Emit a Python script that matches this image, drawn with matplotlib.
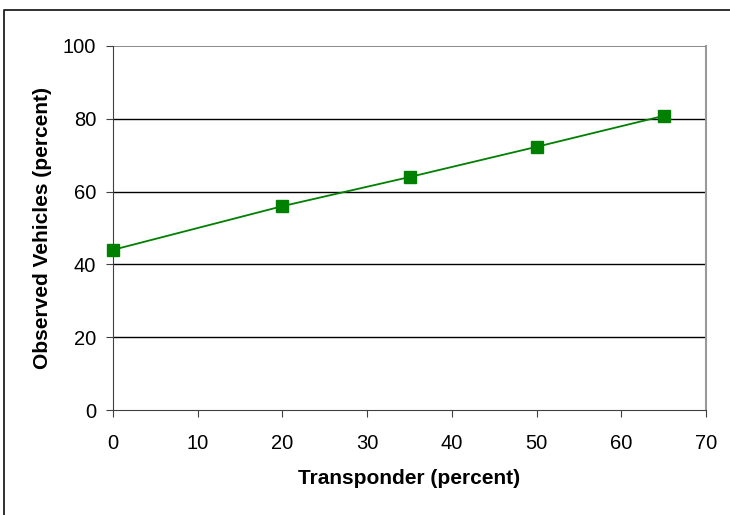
import matplotlib; matplotlib.use("Agg")
import matplotlib.pyplot as plt
from matplotlib.lines import Line2D

transponder = [0, 20, 35, 50, 65]
observed = [44, 56, 64, 72.3, 80.8]
x_ticks = [0, 10, 20, 30, 40, 50, 60, 70]
y_ticks = [0, 20, 40, 60, 80, 100]

plt.rcParams['font.family'] = ['Liberation Sans', 'DejaVu Sans']
W, H = 730, 515
fig = plt.figure(figsize=(W/100, H/100), dpi=100)
# outer chart border (Excel style), only top and left visible
fig.lines.append(Line2D([4/W, 4/W, 1.0], [0, 1-10/H, 1-10/H], transform=fig.transFigure,
                        color="#202020", lw=1.3))
ax = fig.add_axes([113/W, 1-410/H, (706-113)/W, (410-46)/H])
ax.plot(transponder, observed, "-s", color="#008000", lw=1.3, ms=9, mec="#008000", zorder=3, clip_on=False)
ax.set_xlim(0, 70); ax.set_ylim(0, 100)
ax.set_xticks(x_ticks); ax.set_yticks(y_ticks)
for v in y_ticks[1:-1]:
    ax.axhline(v, color="black", lw=1.0, zorder=1)
ax.axhline(100, color="#808080", lw=1.3, zorder=1)
ax.spines["top"].set_visible(False)
ax.spines["right"].set_color("#999999"); ax.spines["right"].set_linewidth(1.5)
ax.spines["left"].set_color("#404040"); ax.spines["bottom"].set_color("#404040")
ax.tick_params(direction="out", length=5, color="#404040", labelsize=14.5, pad=7)
ax.tick_params(axis="x", pad=12)
ax.set_xlabel("Transponder (percent)", fontsize=15, fontweight="bold", labelpad=12)
ax.set_ylabel("Observed Vehicles (percent)", fontsize=15, fontweight="bold", labelpad=8)
fig.savefig("out.png", dpi=100)
